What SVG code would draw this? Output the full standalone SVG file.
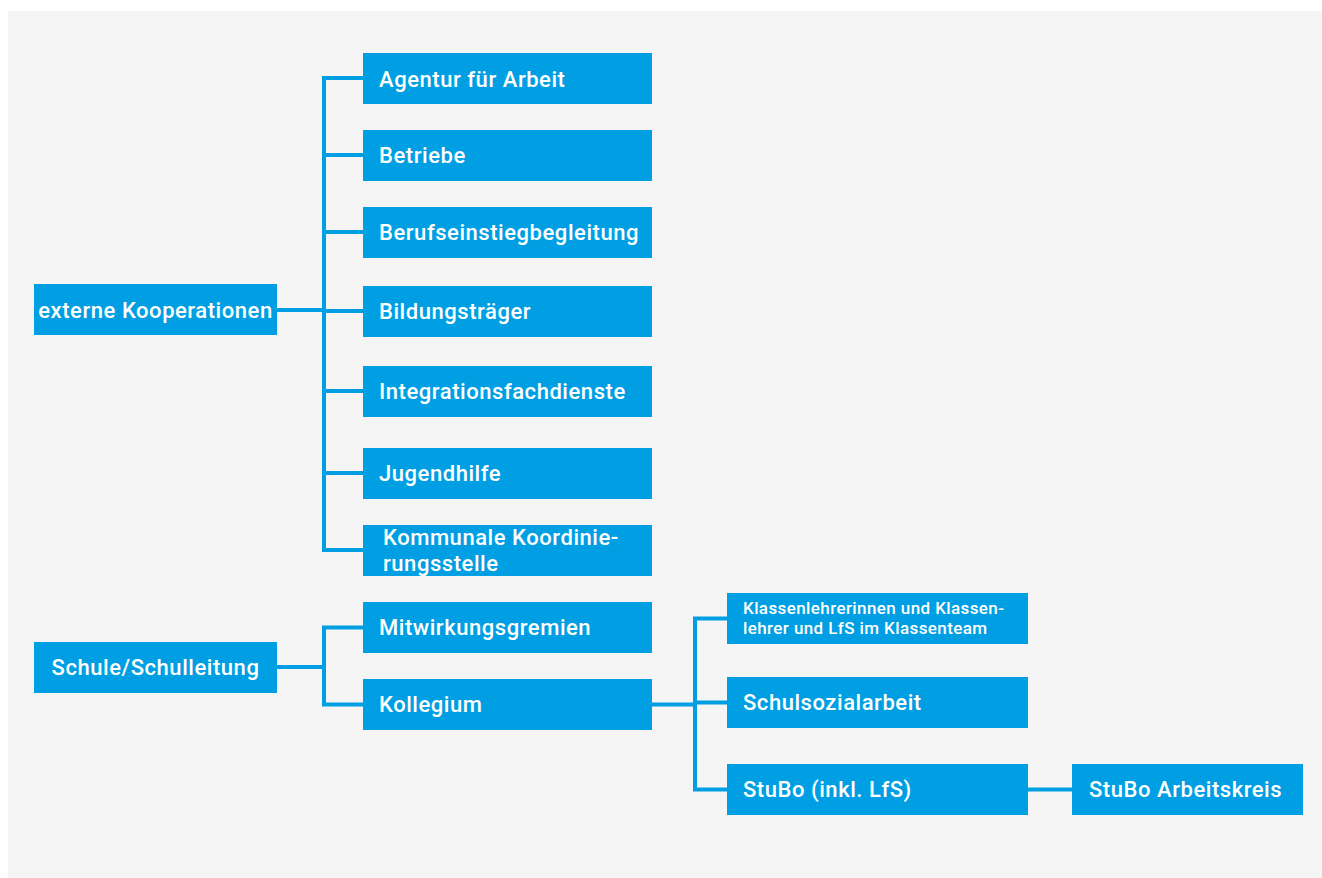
<svg xmlns="http://www.w3.org/2000/svg" width="1322" height="878" viewBox="0 0 1322 878">
<style>
.box{fill:#009fe3}
.t{fill:#fff;font-family:Roboto,"Liberation Sans",sans-serif;font-weight:500;font-size:22px;letter-spacing:0.55px}
.s{font-size:17px;letter-spacing:0.4px}
.c{text-anchor:middle}
.ln{fill:none;stroke:#009fe3;stroke-width:4}
</style>
<rect x="0" y="0" width="1322" height="878" fill="#fff"/>
<rect x="8" y="11" width="1314" height="867" fill="#f5f5f5"/>
<g id="connectors">
<path class="ln" d="M277 310H324M363 78H324V550H363M324 155H363M324 232H363M324 311H363M324 391H363M324 473H363"/>
<path class="ln" d="M277 667H324M363 627.5H324V704.5H363"/>
<path class="ln" d="M652 704.5H695M727 618.5H695V789.5H727M695 702.5H727"/>
<path class="ln" d="M1028 789.5H1072"/>
</g>
<g id="n-extern"><rect class="box" x="34" y="284" width="243" height="51"/><text class="t c" x="155.5" y="317.5">externe Kooperationen</text></g>
<g id="n-agentur"><rect class="box" x="363" y="53" width="289" height="51"/><text class="t" x="379" y="86.5">Agentur für Arbeit</text></g>
<g id="n-betriebe"><rect class="box" x="363" y="130" width="289" height="51"/><text class="t" x="379" y="163">Betriebe</text></g>
<g id="n-beruf"><rect class="box" x="363" y="207" width="289" height="51"/><text class="t" x="379" y="240">Berufseinstiegbegleitung</text></g>
<g id="n-bildung"><rect class="box" x="363" y="286" width="289" height="51"/><text class="t" x="379" y="319">Bildungsträger</text></g>
<g id="n-integration"><rect class="box" x="363" y="366" width="289" height="51"/><text class="t" x="379" y="399">Integrationsfachdienste</text></g>
<g id="n-jugend"><rect class="box" x="363" y="448" width="289" height="51"/><text class="t" x="379" y="481">Jugendhilfe</text></g>
<g id="n-kommunal"><rect class="box" x="363" y="525" width="289" height="51"/><text class="t" x="383" y="544.5">Kommunale Koordinie-</text><text class="t" x="383" y="570.5">rungsstelle</text></g>
<g id="n-schule"><rect class="box" x="34" y="642" width="243" height="51"/><text class="t c" x="155.5" y="674.5">Schule/Schulleitung</text></g>
<g id="n-mitwirkung"><rect class="box" x="363" y="602" width="289" height="51"/><text class="t" x="379" y="635">Mitwirkungsgremien</text></g>
<g id="n-kollegium"><rect class="box" x="363" y="679" width="289" height="51"/><text class="t" x="379" y="712">Kollegium</text></g>
<g id="n-klassen"><rect class="box" x="727" y="593" width="301" height="51"/><text class="t s" x="743" y="613.5">Klassenlehrerinnen und Klassen-</text><text class="t s" x="743" y="633.5">lehrer und LfS im Klassenteam</text></g>
<g id="n-sozial"><rect class="box" x="727" y="677" width="301" height="51"/><text class="t" x="743" y="709.5">Schulsozialarbeit</text></g>
<g id="n-stubo"><rect class="box" x="727" y="764" width="301" height="51"/><text class="t" x="743" y="796.5">StuBo (inkl. LfS)</text></g>
<g id="n-arbeitskreis"><rect class="box" x="1072" y="764" width="231" height="51"/><text class="t" x="1089" y="796.5">StuBo Arbeitskreis</text></g>
</svg>
